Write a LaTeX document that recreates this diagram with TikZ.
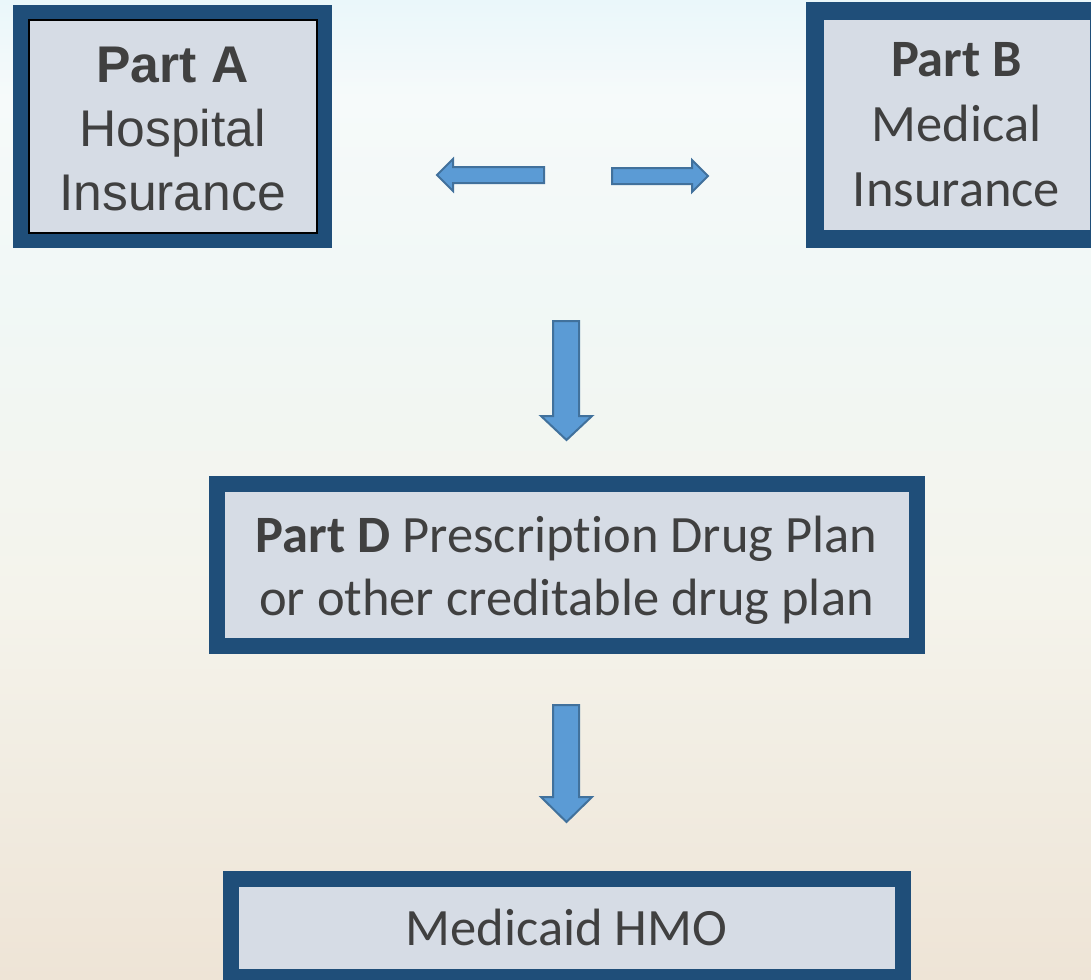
\documentclass[tikz,border=0pt]{standalone}
\usepackage{fontspec}
\newfontfamily\arialf{Liberation Sans}
\newfontfamily\calf[Ligatures={NoCommon}]{Carlito}
\definecolor{bordblue}{RGB}{31,78,121}
\definecolor{boxfill}{RGB}{214,220,229}
\definecolor{arrfill}{RGB}{91,155,213}
\definecolor{arrline}{RGB}{65,113,156}
\definecolor{txt}{RGB}{64,64,64}
\definecolor{bgtop}{RGB}{234,247,250}
\definecolor{bgwhite}{RGB}{246,250,250}
\definecolor{bgmid}{RGB}{241,248,246}
\definecolor{bgmid2}{RGB}{244,243,235}
\definecolor{bgbot}{RGB}{238,228,214}
\pgfdeclareverticalshading{bgshade}{100bp}{color(0bp)=(bgbot); color(25bp)=(bgbot); color(44bp)=(bgmid2); color(60bp)=(bgmid); color(70bp)=(bgwhite); color(75bp)=(bgtop); color(100bp)=(bgtop)}
\tikzset{
  medbox/.style={draw=bordblue, fill=boxfill, line width=16pt, inner sep=0pt, outer sep=0pt, rectangle},
  boxtext/.style={text=txt, align=center, inner sep=0pt},
  blockarrow/.style={fill=arrfill, draw=arrline, line width=2pt, line join=miter},
}
\begin{document}
\begin{tikzpicture}[x=1pt,y=-1pt]
\useasboundingbox (0,0) rectangle (1091,979);
\shade[shading=bgshade] (0,0) rectangle (1091,979);

% boxes
\node[medbox, line width=15pt, minimum width=304pt, minimum height=228pt] (A) at (172.5,126.5) {};
\draw[black, line width=2pt] ([shift={(8pt,-8pt)}]A.north west) rectangle ([shift={(-8pt,8pt)}]A.south east);
\node[medbox, line width=18pt, minimum width=284pt, minimum height=227.5pt] (B) at (956.5,124.75) {};
\node[medbox, minimum width=700pt, minimum height=162pt] (D) at (566.5,565) {};
\node[medbox, minimum width=672pt, minimum height=98pt] (M) at (566.5,928) {};

% texts
\node[boxtext, font=\arialf\fontsize{51.6pt}{64pt}\selectfont, yshift=-2.5pt] (At) at (A.center)
  {{\bfseries Part A}\\Hospital\\Insurance};
\node[boxtext, font=\calf\fontsize{52.5pt}{65pt}\selectfont] (Bt) at (B.center)
  {{\bfseries Part B}\\Medical\\Insurance};
\node[boxtext, font=\calf\fontsize{52.5pt}{63pt}\selectfont, yshift=-5pt] (Dt) at (D.center)
  {{\bfseries Part D} Prescription Drug Plan\\or other creditable drug plan};
\node[boxtext, font=\calf\fontsize{52.5pt}{63pt}\selectfont, yshift=1pt] (Mt) at (M.center)
  {Medicaid HMO};

% block arrows
\draw[blockarrow] (437,175) -- (453,159) -- (453,167) -- (544,167) -- (544,183) -- (453,183) -- (453,191) -- cycle;
\draw[blockarrow] (708,176) -- (692,160) -- (692,168) -- (612,168) -- (612,184) -- (692,184) -- (692,192) -- cycle;
\draw[blockarrow] (553,321) -- (579,321) -- (579,416) -- (592,416) -- (566.5,440) -- (541,416) -- (553,416) -- cycle;
\draw[blockarrow] (553,705) -- (579,705) -- (579,797) -- (592,797) -- (566.5,822) -- (541,797) -- (553,797) -- cycle;
\end{tikzpicture}
\end{document}
